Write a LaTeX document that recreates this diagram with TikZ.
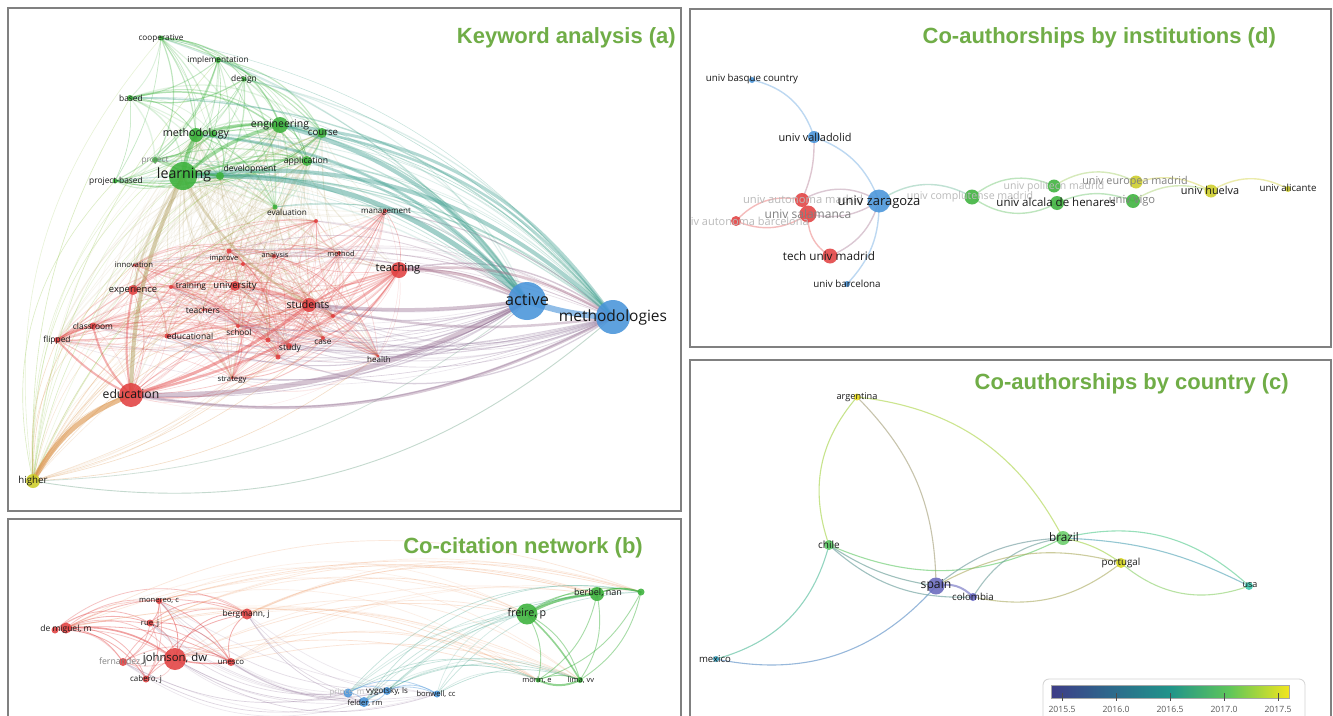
\documentclass[tikz,border=0pt]{standalone}
\usepackage{fontspec}
\setmainfont{Open Sans}
\newfontfamily\titlefont{Liberation Sans}
\newcommand\fsz[1]{\fontsize{#1}{#1}\selectfont}
\definecolor{ttl}{RGB}{112,173,71}
\definecolor{frm}{RGB}{128,128,128}
\definecolor{lbl}{RGB}{25,25,25}
\definecolor{cg}{RGB}{60,178,60}
\definecolor{cr}{RGB}{226,66,66}
\definecolor{cb}{RGB}{72,148,218}
\definecolor{cy}{RGB}{205,205,40}
\definecolor{vA}{RGB}{62,60,135}
\definecolor{vB}{RGB}{45,105,140}
\definecolor{vC}{RGB}{33,148,138}
\definecolor{vD}{RGB}{95,198,90}
\definecolor{vE}{RGB}{242,230,30}
\definecolor{cSp}{RGB}{105,105,190}
\definecolor{cCo}{RGB}{105,105,198}
\definecolor{cCh}{RGB}{90,200,100}
\definecolor{cBr}{RGB}{105,205,105}
\definecolor{cPt}{RGB}{215,215,30}
\definecolor{cAr}{RGB}{235,220,30}
\definecolor{cUs}{RGB}{60,200,175}
\definecolor{cMx}{RGB}{60,170,200}
\definecolor{cgr}{RGB}{170,150,80}
\definecolor{corg}{RGB}{240,160,110}
\pgfdeclarehorizontalshading{viridisbar}{100bp}{color(0bp)=(vA); color(25bp)=(vA); color(37.5bp)=(vB); color(50bp)=(vC); color(62.5bp)=(vD); color(75bp)=(vE); color(100bp)=(vE)}
\newcommand\LG{coop,impl,design,based,mthdy,gdot,engin,course,proj,learn,devel,appl,pbased,evalu}
\newcommand\LR{manag,teach,innov,exper,train,univ,impr,analy,meth,stud,teachr,class,flip,educal,school,study,case,health,strat,educ,rdA,rdB,rdC,rdD,rdE}
\newcommand\LGh{learn,mthdy,engin,devel,appl,course,evalu}
\newcommand\LRup{manag,teach,innov,impr,analy,meth,rdA,rdB}
\newcommand\LRlow{exper,train,univ,stud,teachr,class,flip,educal,school,study,case,health,strat,educ,rdC,rdD,rdE}
\newcommand\HRleft{manag,innov,exper,train,univ,impr,analy,meth,teachr,class,flip,educal,school,educ,rdA,rdB,stud,teach}
\newcommand\HRright{case,study,health,strat,rdC,rdD,rdE}
\newcommand\BR{dmA,dmB,monereo,rue,johns,fernd,cabero,unesco,bergm}
\newcommand\BRh{johns,dmB,monereo,bergm,unesco,rue}
\newcommand\BG{freire,berbel,gx,morin,lima}
\newcommand\BB{prince,vygot,felder,bonw}
\newcommand\vnode[3]{\node[dot, fill=#2, minimum size=#3pt] (#1N) at (#1) {};}
\begin{document}
\begin{tikzpicture}[x=1pt,y=1pt,
  dot/.style={circle, inner sep=0pt, draw=none, fill opacity=0.88},
  lab/.style={inner sep=0pt, text=lbl},
  flab/.style={inner sep=0pt, text=lbl!30},
  glab/.style={inner sep=0pt, text=lbl!55},
  frame/.style={draw=frm, line width=2pt},
  ttlst/.style={font=\titlefont\bfseries\fsz{22}, text=ttl, inner sep=0pt, anchor=base east},
  edg/.style={line cap=round}]
\useasboundingbox (0,0) rectangle (1333,-715);
\fill[white] (0,0) rectangle (1333,-715);

% ================= panel a =================
\begin{scope}
\clip (9,-9) rectangle (680,-510);
\coordinate (coop) at (161,-38);
\coordinate (impl) at (218,-60);
\coordinate (design) at (244,-79);
\coordinate (based) at (130,-98);
\coordinate (mthdy) at (196,-135);
\coordinate (gdot) at (213,-134);
\coordinate (engin) at (280,-125);
\coordinate (course) at (322,-133);
\coordinate (proj) at (155,-160);
\coordinate (learn) at (183,-176);
\coordinate (devel) at (220,-176);
\coordinate (appl) at (307,-161);
\coordinate (pbased) at (115,-181);
\coordinate (evalu) at (275,-207);
\coordinate (manag) at (385,-211);
\coordinate (teach) at (399,-270);
\coordinate (innov) at (134,-265);
\coordinate (exper) at (133,-290);
\coordinate (train) at (171,-287);
\coordinate (univ) at (235,-286);
\coordinate (impr) at (229,-251);
\coordinate (analy) at (274,-256);
\coordinate (meth) at (339,-253);
\coordinate (stud) at (309,-305);
\coordinate (teachr) at (203,-310);
\coordinate (class) at (93,-326);
\coordinate (flip) at (57,-340);
\coordinate (educal) at (167,-336);
\coordinate (school) at (238,-326);
\coordinate (study) at (289,-346);
\coordinate (case) at (323,-338);
\coordinate (health) at (378,-356);
\coordinate (strat) at (232,-378);
\coordinate (educ) at (131,-395);
\coordinate (rdA) at (316,-221);
\coordinate (rdB) at (243,-264);
\coordinate (rdC) at (268,-340);
\coordinate (rdD) at (333,-316);
\coordinate (rdE) at (278,-357);
\coordinate (active) at (527,-301);
\coordinate (methods) at (613,-317);
\coordinate (higher) at (33,-481);
\pgfmathsetseed{11}
% green-green
\foreach \aa [count=\ii] in \LG {
 \foreach \bb [count=\jj] in \LG {
  \ifnum\jj>\ii
   \pgfmathsetmacro\op{0.14+0.26*rnd}
   \pgfmathsetmacro\lw{0.5+1.0*rnd}
   \pgfmathsetmacro\bd{10+25*rnd}
   \draw[edg, cg, opacity=\op, line width=\lw pt] (\aa) to[bend left=\bd] (\bb);
  \fi}}
% red-red
\foreach \aa [count=\ii] in \LR {
 \foreach \bb [count=\jj] in \LR {
  \ifnum\jj>\ii
   \pgfmathsetmacro\op{0.08+0.24*rnd}
   \pgfmathsetmacro\lw{0.3+0.9*rnd}
   \pgfmathsetmacro\bd{10+25*rnd}
   \draw[edg, cr, opacity=\op, line width=\lw pt] (\aa) to[bend left=\bd] (\bb);
  \fi}}
% green-red
\foreach \aa in \LGh {
 \foreach \bb in \LR {
   \pgfmathsetmacro\op{0.04+0.14*rnd}
   \pgfmathsetmacro\lw{0.3+0.8*rnd}
   \pgfmathsetmacro\bd{8+20*rnd}
   \draw[edg, cgr, opacity=\op, line width=\lw pt] (\aa) to[bend right=\bd] (\bb);
 }}
% blue hubs
\foreach \hb in {active,methods} {
 \foreach \tg in \LG {
   \pgfmathsetmacro\op{0.12+0.25*rnd}
   \pgfmathsetmacro\lw{0.4+1.0*rnd}
   \pgfmathsetmacro\bd{15+15*rnd}
   \draw[edg, cb!50!cg, opacity=\op, line width=\lw pt] (\hb) to[bend right=\bd] (\tg);}
 \foreach \tg in \LRup {
   \pgfmathsetmacro\op{0.12+0.25*rnd}
   \pgfmathsetmacro\lw{0.4+1.0*rnd}
   \pgfmathsetmacro\bd{10+15*rnd}
   \draw[edg, cb!50!cr, opacity=\op, line width=\lw pt] (\hb) to[bend right=\bd] (\tg);}
 \foreach \tg in \LRlow {
   \pgfmathsetmacro\op{0.12+0.25*rnd}
   \pgfmathsetmacro\lw{0.4+1.0*rnd}
   \pgfmathsetmacro\bd{10+18*rnd}
   \draw[edg, cb!55!cr, opacity=\op, line width=\lw pt] (\hb) to[bend left=\bd] (\tg);}
}
% higher
\foreach \tg in \LG {
   \pgfmathsetmacro\op{0.12+0.2*rnd}
   \pgfmathsetmacro\bd{15+15*rnd}
   \draw[edg, cy!50!cg, opacity=\op, line width=0.6pt] (higher) to[bend left=\bd] (\tg);}
\foreach \tg in \HRleft {
   \pgfmathsetmacro\op{0.1+0.2*rnd}
   \pgfmathsetmacro\bd{12+15*rnd}
   \draw[edg, cy!50!cr, opacity=\op, line width=0.6pt] (higher) to[bend left=\bd] (\tg);}
\foreach \tg in \HRright {
   \pgfmathsetmacro\op{0.1+0.2*rnd}
   \pgfmathsetmacro\bd{8+12*rnd}
   \draw[edg, cy!50!cr, opacity=\op, line width=0.6pt] (higher) to[bend right=\bd] (\tg);}
\draw[edg, cy!40!cb, opacity=.45, line width=0.9pt] (higher) to[bend right=25] (methods);
\draw[edg, cy!40!cb, opacity=.35, line width=0.8pt] (higher) to[bend right=18] (active);
% thick edges
\draw[edg, cg!45!cb, opacity=.5, line width=5pt] (learn) to[bend left=22] (active);
\draw[edg, cg!45!cb, opacity=.45, line width=4pt] (learn) to[bend left=25] (methods);
\draw[edg, cg!45!cb, opacity=.45, line width=4pt] (engin) to[bend left=20] (active);
\draw[edg, cg!45!cb, opacity=.4, line width=3pt] (engin) to[bend left=25] (methods);
\draw[edg, cg!45!cb, opacity=.4, line width=3pt] (mthdy) to[bend left=22] (active);
\draw[edg, cg!45!cb, opacity=.4, line width=2.5pt] (appl) to[bend left=15] (active);
\draw[edg, cg!45!cb, opacity=.4, line width=2.5pt] (course) to[bend left=20] (methods);
\draw[edg, cr!50!cb, opacity=.4, line width=5pt] (educ) to[bend right=14] (active);
\draw[edg, cr!50!cb, opacity=.35, line width=3pt] (educ) to[bend right=18] (methods);
\draw[edg, cr!50!cb, opacity=.4, line width=3.5pt] (stud) to[bend right=6] (active);
\draw[edg, cr!50!cb, opacity=.35, line width=2.5pt] (stud) to[bend right=10] (methods);
\draw[edg, cr!60!cb, opacity=.4, line width=3pt] (teach) to[bend left=15] (active);
\draw[edg, cr!60!cb, opacity=.35, line width=2.5pt] (teach) to[bend left=18] (methods);
\draw[edg, cb, opacity=.6, line width=6pt] (active) to[bend right=8] (methods);
\draw[edg, cy!50!cr, opacity=.55, line width=5pt] (higher) to[bend left=20] (educ);
\draw[edg, cgr, opacity=.45, line width=4pt] (learn) to[bend right=12] (educ);
\draw[edg, cg, opacity=.5, line width=4pt] (learn) to[bend left=10] (mthdy);
\draw[edg, cg, opacity=.45, line width=3.5pt] (learn) to[bend left=12] (engin);
\draw[edg, cg, opacity=.45, line width=3pt] (mthdy) to[bend left=10] (engin);
\draw[edg, cgr, opacity=.35, line width=2.5pt] (learn) to[bend right=15] (stud);
\draw[edg, cgr, opacity=.3, line width=2pt] (learn) to[bend right=10] (exper);
\draw[edg, cg, opacity=.45, line width=2pt] (learn) to[bend left=10] (devel);
\draw[edg, cg, opacity=.4, line width=2pt] (learn) to[bend left=10] (appl);
\draw[edg, cr, opacity=.45, line width=3pt] (educ) to[bend right=10] (stud);
\draw[edg, cr, opacity=.4, line width=2.5pt] (educ) to[bend right=12] (teach);
\draw[edg, cr, opacity=.4, line width=2pt] (educ) to[bend left=10] (exper);
\draw[edg, cr, opacity=.4, line width=2pt] (educ) to[bend left=15] (class);
\draw[edg, cr, opacity=.4, line width=2pt] (educ) to[bend left=10] (flip);
\draw[edg, cr, opacity=.45, line width=2.5pt] (flip) to[bend left=10] (class);
\draw[edg, cr, opacity=.35, line width=2pt] (stud) to[bend left=10] (teach);
\draw[edg, cr, opacity=.35, line width=2pt] (univ) to[bend left=10] (stud);
% nodes
\vnode{coop}{cg}{5} \vnode{impl}{cg}{6} \vnode{design}{cg}{5} \vnode{based}{cg}{6}
\vnode{mthdy}{cg}{14} \vnode{gdot}{cg}{7} \vnode{engin}{cg}{16} \vnode{course}{cg}{10}
\vnode{proj}{cg}{6} \vnode{learn}{cg}{28} \vnode{devel}{cg}{8} \vnode{appl}{cg}{10}
\vnode{pbased}{cg}{5} \vnode{evalu}{cg}{5}
\vnode{manag}{cr}{4} \vnode{teach}{cr}{16} \vnode{innov}{cr}{3} \vnode{exper}{cr}{10}
\vnode{train}{cr}{4} \vnode{univ}{cr}{10} \vnode{impr}{cr}{5} \vnode{analy}{cr}{4}
\vnode{meth}{cr}{4} \vnode{stud}{cr}{14} \vnode{teachr}{cr}{3} \vnode{class}{cr}{7}
\vnode{flip}{cr}{6} \vnode{educal}{cr}{5} \vnode{school}{cr}{4} \vnode{study}{cr}{6}
\vnode{case}{cr}{4} \vnode{health}{cr}{3} \vnode{strat}{cr}{3} \vnode{educ}{cr}{24}
\vnode{rdA}{cr}{4} \vnode{rdB}{cr}{4} \vnode{rdC}{cr}{5} \vnode{rdD}{cr}{4} \vnode{rdE}{cr}{5}
\vnode{active}{cb}{38} \vnode{methods}{cb}{34} \vnode{higher}{cy}{14}
% labels
\node[lab, font=\fsz{8.2}] (coopL) at (161,-38) {cooperative};
\node[lab, font=\fsz{8.2}] (implL) at (218,-60) {implementation};
\node[lab, font=\fsz{8.4}] (designL) at (244,-79) {design};
\node[lab, font=\fsz{8.4}] (basedL) at (131,-98) {based};
\node[lab, font=\fsz{10.7}] (mthdyL) at (196,-134) {methodology};
\node[lab, font=\fsz{10.5}] (enginL) at (280,-125) {engineering};
\node[lab, font=\fsz{9.6}] (courseL) at (323,-133) {course};
\node[glab, font=\fsz{8.3}] (projL) at (155,-160) {project};
\node[lab, font=\fsz{14.2}] (learnL) at (184,-175) {learning};
\node[lab, font=\fsz{8.6}] (develL) at (250,-169) {development};
\node[lab, font=\fsz{8.6}] (applL) at (306,-161) {application};
\node[lab, font=\fsz{8.4}] (pbasedL) at (116,-181) {project-based};
\node[lab, font=\fsz{8.2}] (evaluL) at (287,-212) {evaluation};
\node[lab, font=\fsz{8}] (managL) at (386,-212) {management};
\node[lab, font=\fsz{11.2}] (teachL) at (398,-269) {teaching};
\node[lab, font=\fsz{16.2}] (activeL) at (527,-300) {active};
\node[lab, font=\fsz{15.5}] (methodsL) at (613,-317) {methodologies};
\node[lab, font=\fsz{7.7}] (innovL) at (134,-265) {innovation};
\node[lab, font=\fsz{9.4}] (experL) at (133,-290) {experience};
\node[lab, font=\fsz{8.4}] (trainL) at (191,-286) {training};
\node[lab, font=\fsz{9.5}] (univL) at (235,-286) {university};
\node[lab, font=\fsz{7.5}] (imprL) at (224,-259) {improve};
\node[lab, font=\fsz{7.2}] (analyL) at (275,-256) {analysis};
\node[lab, font=\fsz{7.4}] (methL) at (341,-254) {method};
\node[lab, font=\fsz{10.5}] (studL) at (308,-305) {students};
\node[lab, font=\fsz{8.5}] (teachrL) at (203,-310) {teachers};
\node[lab, font=\fsz{8.4}] (classL) at (93,-326) {classroom};
\node[lab, font=\fsz{8.4}] (flipL) at (57,-340) {flipped};
\node[lab, font=\fsz{8.5}] (educalL) at (190,-336) {educational};
\node[flab, font=\fsz{6}] (modelL) at (193,-346) {model};
\node[lab, font=\fsz{8.3}] (schoolL) at (239,-332) {school};
\node[lab, font=\fsz{8.6}] (studyL) at (290,-348) {study};
\node[lab, font=\fsz{8.3}] (caseL) at (323,-342) {case};
\node[lab, font=\fsz{8}] (healthL) at (379,-359) {health};
\node[lab, font=\fsz{7.7}] (stratL) at (232,-380) {strategy};
\node[lab, font=\fsz{12.2}] (educL) at (131,-394) {education};
\node[lab, font=\fsz{9.7}] (higherL) at (33,-481) {higher};
\end{scope}
\draw[frame] (8,-8) rectangle (681,-511);
\node[ttlst] (titleA) at (676,-43) {Keyword analysis (a)};

% ================= panel b =================
\begin{scope}
\clip (9,-520) rectangle (680,-715);
\coordinate (monereo) at (159,-601);
\coordinate (rue) at (150,-623);
\coordinate (dmA) at (55,-630);
\coordinate (dmB) at (66,-628);
\coordinate (bergm) at (247,-614);
\coordinate (johns) at (175,-659);
\coordinate (fernd) at (123,-662);
\coordinate (cabero) at (146,-679);
\coordinate (unesco) at (231,-662);
\coordinate (freire) at (527,-614);
\coordinate (berbel) at (597,-594);
\coordinate (gx) at (641,-592);
\coordinate (morin) at (538,-680);
\coordinate (lima) at (580,-680);
\coordinate (prince) at (348,-693);
\coordinate (vygot) at (387,-691);
\coordinate (felder) at (364,-702);
\coordinate (bonw) at (437,-694);
\pgfmathsetseed{5}
\foreach \aa [count=\ii] in \BR {
 \foreach \bb [count=\jj] in \BR {
  \ifnum\jj>\ii
   \pgfmathsetmacro\op{0.2+0.3*rnd}
   \pgfmathsetmacro\bd{15+25*rnd}
   \draw[edg, cr, opacity=\op, line width=0.8pt] (\aa) to[bend left=\bd] (\bb);
  \fi}}
\foreach \aa in \BRh {
 \foreach \bb in \BG {
   \pgfmathsetmacro\op{0.12+0.2*rnd}
   \pgfmathsetmacro\bd{14+14*rnd}
   \draw[edg, corg, opacity=\op, line width=0.7pt] (\aa) to[bend left=\bd] (\bb);}}
\foreach \aa in {johns,unesco,bergm,fernd,rue,monereo} {
 \foreach \bb in \BB {
   \pgfmathsetmacro\op{0.12+0.2*rnd}
   \pgfmathsetmacro\bd{12+15*rnd}
   \draw[edg, cr!45!cb, opacity=\op, line width=0.7pt] (\aa) to[bend right=\bd] (\bb);}}
\foreach \aa in \BB {
 \foreach \bb in \BG {
   \pgfmathsetmacro\op{0.15+0.2*rnd}
   \pgfmathsetmacro\bd{15+20*rnd}
   \draw[edg, cb!50!cg, opacity=\op, line width=0.7pt] (\aa) to[bend left=\bd] (\bb);}}
\foreach \aa [count=\ii] in \BB {
 \foreach \bb [count=\jj] in \BB {
  \ifnum\jj>\ii
   \draw[edg, cb, opacity=.4, line width=0.8pt] (\aa) to[bend left=30] (\bb);
  \fi}}
\foreach \aa [count=\ii] in \BG {
 \foreach \bb [count=\jj] in \BG {
  \ifnum\jj>\ii
   \draw[edg, cg, opacity=.45, line width=0.9pt] (\aa) to[bend left=22] (\bb);
  \fi}}
\draw[edg, cg, opacity=.6, line width=2.5pt] (freire) to[bend left=12] (berbel);
\draw[edg, cg, opacity=.55, line width=2pt] (morin) to[bend right=25] (lima);
\draw[edg, cg, opacity=.55, line width=1.6pt] (freire) to[bend left=8] (lima);
\draw[edg, cg, opacity=.5, line width=1.5pt] (berbel) to[bend left=20] (gx);
\draw[edg, cr, opacity=.5, line width=1.6pt] (dmB) to[bend left=20] (johns);
\draw[edg, cr, opacity=.5, line width=1.4pt] (johns) to[bend right=10] (unesco);
\vnode{monereo}{cr}{6} \vnode{rue}{cr}{7} \vnode{dmA}{cr}{7} \vnode{dmB}{cr}{11}
\vnode{bergm}{cr}{11} \vnode{johns}{cr}{22} \vnode{fernd}{cr}{8} \vnode{cabero}{cr}{7}
\vnode{unesco}{cr}{8} \vnode{freire}{cg}{21} \vnode{berbel}{cg}{14} \vnode{gx}{cg}{7}
\vnode{morin}{cg}{5} \vnode{lima}{cg}{6} \vnode{prince}{cb}{9} \vnode{vygot}{cb}{8}
\vnode{felder}{cb}{10} \vnode{bonw}{cb}{7}
\node[lab, font=\fsz{7.6}] (monereoL) at (159,-601) {monereo, c};
\node[lab, font=\fsz{7.7}] (rueL) at (150,-624) {rue, j};
\node[lab, font=\fsz{8.5}] (dmL) at (66,-629) {de miguel, m};
\node[lab, font=\fsz{8.4}] (bergmL) at (246,-614) {bergmann, j};
\node[glab, font=\fsz{8.7}] (ferndL) at (123,-662) {fernandez, j};
\node[lab, font=\fsz{11.3}] (johnsL) at (175,-659) {johnson, dw};
\node[lab, font=\fsz{8}] (caberoL) at (146,-679) {cabero, j};
\node[lab, font=\fsz{7.8}] (unescoL) at (231,-662) {unesco};
\node[lab, font=\fsz{10.7}] (freireL) at (527,-614) {freire, p};
\node[lab, font=\fsz{9}] (berbelL) at (598,-593) {berbel, nan};
\node[lab, font=\fsz{7.5}] (morinL) at (537,-680) {morin, e};
\node[lab, font=\fsz{7.5}] (limaL) at (581,-680) {lima, vv};
\node[flab, font=\fsz{8}] (princeL) at (347,-693) {prince, m};
\node[lab, font=\fsz{8}] (vygotL) at (387,-691) {vygotsky, ls};
\node[lab, font=\fsz{7.6}] (felderL) at (365,-703) {felder, rm};
\node[lab, font=\fsz{7.6}] (bonwL) at (436,-694) {bonwell, cc};
\end{scope}
\draw[frame] (8,-519) rectangle (681,-725);
\node[ttlst] (titleB) at (643,-553) {Co-citation network (b)};

% ================= panel d =================
\begin{scope}
\clip (691,-10) rectangle (1330,-346);
\coordinate (basq) at (752,-80);
\coordinate (vall) at (814,-137);
\coordinate (zara) at (879,-201);
\coordinate (autm) at (802,-200);
\coordinate (sala) at (808,-214);
\coordinate (autb) at (736,-221);
\coordinate (tech) at (830,-256);
\coordinate (barc) at (847,-284);
\coordinate (comp) at (972,-197);
\coordinate (poli) at (1054,-186);
\coordinate (alca) at (1057,-203);
\coordinate (euro) at (1136,-182);
\coordinate (vigo) at (1133,-201);
\coordinate (huel) at (1211,-191);
\coordinate (alic) at (1288,-189);
\begin{scope}[edg, line width=1.4pt, opacity=.6]
\draw[cb!60!white] (basq) to[bend left=30] (vall);
\draw[cb!60!white] (vall) to[bend left=25] (zara);
\draw[cb!40!cr!60!white] (vall) to[bend left=12] (autm);
\draw[cb!45!cr!60!white] (autm) to[bend left=30] (zara);
\draw[cb!45!cr!60!white] (sala) to[bend right=22] (zara);
\draw[cr!60!white] (autb) to[bend left=30] (autm);
\draw[cr!60!white] (autb) to[bend right=28] (sala);
\draw[cr!60!white] (sala) to[bend right=30] (tech);
\draw[cb!45!cr!60!white] (tech) to[bend right=25] (zara);
\draw[cb!60!white] (zara) to[bend left=22] (barc);
\draw[cb!40!cg!55!white] (zara) to[bend left=32] (comp);
\draw[cg!55!white] (comp) to[bend left=32] (poli);
\draw[cg!55!white] (comp) to[bend right=32] (alca);
\draw[cg!50!cy!55!white] (poli) to[bend left=30] (euro);
\draw[cg!55!white] (alca) to[bend left=22] (vigo);
\draw[cg!50!cy!55!white] (vigo) to[bend left=25] (huel);
\draw[cy!65!white] (euro) to[bend left=22] (huel);
\draw[cy!65!white] (huel) to[bend left=30] (alic);
\end{scope}
\vnode{basq}{cb}{6} \vnode{vall}{cb}{12} \vnode{zara}{cb}{23} \vnode{autm}{cr}{14}
\vnode{sala}{cr}{17} \vnode{autb}{cr}{10} \vnode{tech}{cr}{15} \vnode{barc}{cb}{6}
\vnode{comp}{cg}{15} \vnode{poli}{cg}{13} \vnode{alca}{cg}{14} \vnode{euro}{cy}{13}
\vnode{vigo}{cg}{14} \vnode{huel}{cy}{13} \vnode{alic}{cy}{6}
\node[flab, font=\fsz{11.2}] (autmL) at (803,-199) {univ autonoma madrid};
\node[flab, font=\fsz{11}] (autbL) at (743,-221) {univ autonoma barcelona};
\node[flab, font=\fsz{10.6}] (compL) at (970,-197) {univ complutense madrid};
\node[flab, font=\fsz{10.5}] (poliL) at (1054,-187) {univ politecn madrid};
\node[glab, font=\fsz{12}] (salaL) at (808,-214) {univ salamanca};
\node[glab, font=\fsz{10.8}] (euroL) at (1135,-182) {univ europea madrid};
\node[glab, font=\fsz{11.2}] (vigoL) at (1132,-201) {univ vigo};
\node[lab, font=\fsz{9.7}] (basqL) at (752,-79) {univ basque country};
\node[lab, font=\fsz{10.9}] (vallL) at (815,-137) {univ valladolid};
\node[lab, font=\fsz{13}] (zaraL) at (879,-202) {univ zaragoza};
\node[lab, font=\fsz{11.7}] (techL) at (829,-256) {tech univ madrid};
\node[lab, font=\fsz{9.8}] (barcL) at (847,-284) {univ barcelona};
\node[lab, font=\fsz{11.5}] (alcaL) at (1056,-202) {univ alcala de henares};
\node[lab, font=\fsz{10.9}] (huelL) at (1210,-190) {univ huelva};
\node[lab, font=\fsz{9.7}] (alicL) at (1288,-188) {univ alicante};
\end{scope}
\draw[frame] (690,-9) rectangle (1331,-347);
\node[ttlst] (titleD) at (1276,-43) {Co-authorships by institutions (d)};

% ================= panel c =================
\begin{scope}
\clip (691,-361) rectangle (1330,-715);
\coordinate (arg) at (857,-397);
\coordinate (chile) at (829,-545);
\coordinate (spain) at (936,-586);
\coordinate (colom) at (973,-597);
\coordinate (brazil) at (1063,-538);
\coordinate (portu) at (1121,-563);
\coordinate (usa) at (1249,-586);
\coordinate (mexico) at (716,-659);
\begin{scope}[edg, line width=1.1pt, opacity=.6]
\draw[cAr!50!cCh] (arg) to[bend right=30] (chile);
\draw[cAr!45!cSp] (arg) to[bend left=22] (spain);
\draw[cAr!50!cBr] (arg) to[bend left=28] (brazil);
\draw[cCh!50!cMx] (chile) to[bend left=30] (mexico);
\draw[cMx!50!cSp] (mexico) to[bend right=30] (spain);
\draw[cCh!50!cSp] (chile) to[bend right=12] (spain);
\draw[cCh!50!cCo] (chile) to[bend right=22] (colom);
\draw[cCh!70!cBr] (chile) to[bend right=25] (brazil);
\draw[cSp!55!cBr] (spain) to[bend left=18] (brazil);
\draw[cCo!50!cBr] (colom) to[bend left=25] (brazil);
\draw[cSp!40!cPt] (spain) to[bend left=22] (portu);
\draw[cCo!40!cPt] (colom) to[bend right=25] (portu);
\draw[cBr!50!cPt] (brazil) to[bend left=12] (portu);
\draw[cBr!50!cUs] (brazil) to[bend left=28] (usa);
\draw[cSp!40!cUs] (brazil) to[bend left=12] (usa);
\draw[cPt!50!cUs] (portu) to[bend right=30] (usa);
\draw[cSp, line width=2pt] (spain) to[bend left=30] (colom);
\end{scope}
\vnode{arg}{cAr}{7} \vnode{chile}{cCh}{10} \vnode{spain}{cSp}{17} \vnode{colom}{cCo}{8}
\vnode{brazil}{cBr}{14} \vnode{portu}{cPt}{10} \vnode{usa}{cUs}{8} \vnode{mexico}{cMx}{6}
\node[lab, font=\fsz{9.2}] (argL) at (857,-397) {argentina};
\node[lab, font=\fsz{10}] (chileL) at (829,-545) {chile};
\node[lab, font=\fsz{12.2}] (spainL) at (936,-585) {spain};
\node[lab, font=\fsz{9.7}] (colomL) at (973,-597) {colombia};
\node[lab, font=\fsz{11.7}] (brazilL) at (1064,-537) {brazil};
\node[lab, font=\fsz{9.8}] (portuL) at (1121,-563) {portugal};
\node[lab, font=\fsz{9}] (usaL) at (1250,-585) {usa};
\node[lab, font=\fsz{9.6}] (mexicoL) at (715,-659) {mexico};
% colour bar
\draw[gray!35, line width=0.8pt, rounded corners=6pt] (1043,-679) rectangle (1305,-730);
\shade[shading=viridisbar] (1051,-685) rectangle (1289,-698);
\draw[gray!70, line width=0.7pt] (1051,-685) rectangle (1289,-698);
\foreach \xx/\tt in {1062/2015.5,1116/2016.0,1170/2016.5,1224/2017.0,1278/2017.5} {
  \draw[gray!60!black, line width=0.5pt] (\xx,-693) -- (\xx,-701);
  \node[inner sep=0pt, text=gray!70!black, font=\fsz{8.6}] (tk\xx) at (\xx,-709) {\tt};
}
\end{scope}
\draw[frame] (690,-360) rectangle (1331,-725);
\node[ttlst] (titleC) at (1289,-389) {Co-authorships by country (c)};
\end{tikzpicture}
\end{document}
